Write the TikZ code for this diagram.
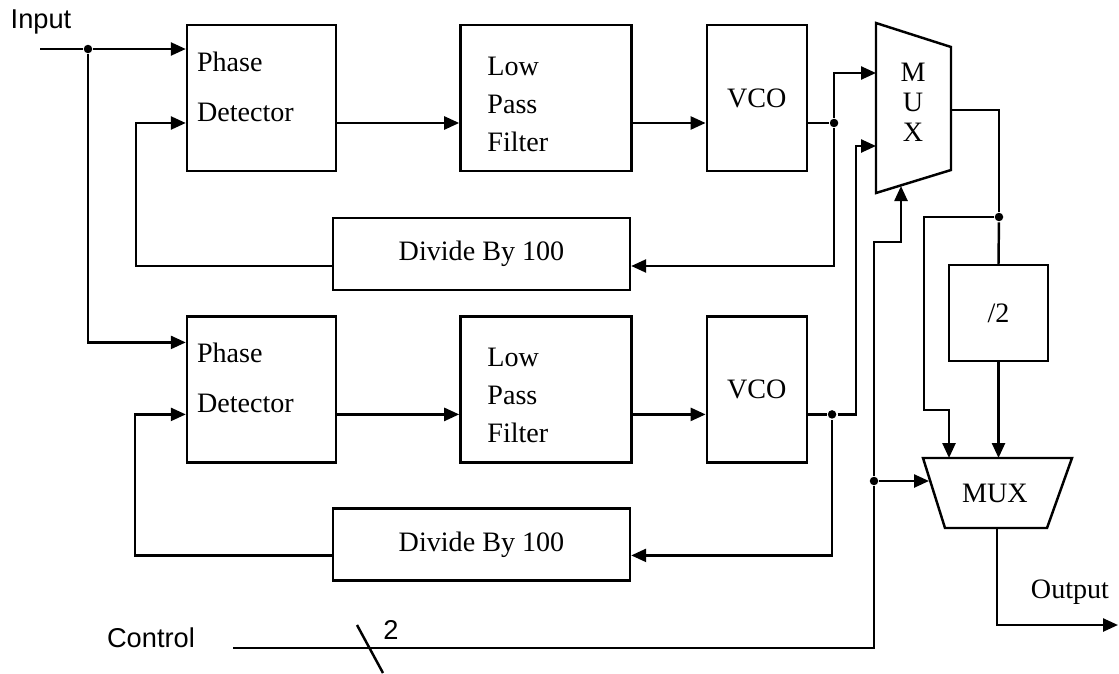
\documentclass[tikz,border=0pt]{standalone}
\usepackage{fontspec}
\setmainfont{Liberation Serif}
\newfontfamily\labelsans{Liberation Sans}
\usetikzlibrary{positioning,arrows.meta,calc}

\begin{document}
\begin{tikzpicture}[
    x=0.02cm, y=-0.02cm,
    >={Triangle[length=0.3cm,width=0.26cm]},
    line width=1.4pt,
    every node/.style={font=\fontsize{16}{19}\selectfont},
    block/.style={
      rectangle, draw, line width=1.4pt, inner sep=0pt,
      minimum width=#1, minimum height=2.92cm
    },
    block/.default=2.98cm,
    divider/.style={
      rectangle, draw, line width=1.4pt, inner sep=0pt,
      minimum width=5.94cm, minimum height=1.44cm
    },
    tag/.style={inner sep=0pt, anchor=north west, align=left},
    dot/.style={circle, fill, inner sep=0pt, minimum size=0.17cm},
    sidetext/.style={font=\labelsans\fontsize{15.5}{18}\selectfont},
  ]
  \useasboundingbox (0,0) rectangle (1119,673);

  % Upper loop
  \node[block]        (pdA)  at (261.5,98) {};
  \node[block=3.42cm] (lpfA) [right=2.44cm of pdA]  {};
  \node[block=2.0cm]  (vcoA) [right=1.46cm of lpfA] {VCO};
  \node[divider]      (divA) at (481.5,254) {Divide By 100};

  % Lower loop
  \node[block]        (pdB)  [below=2.86cm of pdA]  {};
  \node[block=3.42cm] (lpfB) [below=2.86cm of lpfA] {};
  \node[block=2.0cm]  (vcoB) [below=2.86cm of vcoA] {VCO};
  \node[divider]      (divB) [below=4.32cm of divA] {Divide By 100};

  % Box texts
  \node[tag, font=\fontsize{16}{28.5}\selectfont] (pdAt)
    at ([xshift=0.2cm, yshift=-0.53cm]pdA.north west) {Phase\\Detector};
  \node[tag, font=\fontsize{16}{28.5}\selectfont] (pdBt)
    at ([xshift=0.2cm, yshift=-0.53cm]pdB.north west) {Phase\\Detector};
  \node[tag, font=\fontsize{16}{21.6}\selectfont] (lpfAt)
    at ([xshift=0.54cm, yshift=-0.64cm]lpfA.north west) {Low\\Pass\\Filter};
  \node[tag, font=\fontsize{16}{21.6}\selectfont] (lpfBt)
    at ([xshift=0.54cm, yshift=-0.64cm]lpfB.north west) {Low\\Pass\\Filter};

  % Divide by two
  \node[rectangle, draw, line width=1.4pt, minimum width=1.98cm,
        minimum height=1.92cm] (half) at (998.5,313) {/2};

  % Multiplexers
  \draw (876,23) -- (951,47) -- (951,170) -- (876,193) -- cycle;
  \node[align=center, font=\fontsize{16}{17}\selectfont] (muxA) at (913,102) {M\\U\\X};
  \draw (923,458) -- (1072,458) -- (1047,528) -- (945,528) -- cycle;
  \node (muxB) at (995,493) {MUX};

  \coordinate (muxIn1) at (876,73);
  \coordinate (muxIn2) at (876,146);
  \coordinate (muxSel) at (901,186);
  \coordinate (muxOut) at (951,110);
  \coordinate (muxInL) at (949,458);
  \coordinate (muxInS) at (929,481);
  \coordinate (muxOutB) at (997,528);

  % Input
  \node[sidetext] (input) at (41,22) {Input};
  \coordinate (inStart) at (40,49);
  \node[dot] (inSplit) at (88,49) {};
  \draw (inStart) -- (inSplit);
  \draw[->] (inSplit) -- (inSplit -| pdA.west);
  \draw[->] (inSplit) |- ([yshift=0.94cm]pdB.west);

  % Forward paths
  \draw[->] ([yshift=-0.5cm]pdA.east) -- ([yshift=-0.5cm]lpfA.west);
  \draw[->] ([yshift=-0.5cm]lpfA.east) -- ([yshift=-0.5cm]vcoA.west);
  \draw[->] ([yshift=-0.5cm]pdB.east) -- ([yshift=-0.5cm]lpfB.west);
  \draw[->] ([yshift=-0.5cm]lpfB.east) -- ([yshift=-0.5cm]vcoB.west);

  % VCO outputs
  \node[dot] (splitA) at ([xshift=0.52cm, yshift=-0.5cm]vcoA.east) {};
  \node[dot] (splitB) at ([xshift=0.48cm, yshift=-0.5cm]vcoB.east) {};
  \draw ([yshift=-0.5cm]vcoA.east) -- (splitA);
  \draw[->] (splitA) |- (muxIn1);
  \draw[->] (splitA) |- ([yshift=-0.24cm]divA.east);
  \draw[->] ([yshift=-0.5cm]vcoB.east) -- (splitB) -- ++(24,0) |- (muxIn2);
  \draw[->] (splitB) |- ([yshift=-0.22cm]divB.east);

  % Feedback
  \draw[->] ([yshift=-0.24cm]divA.west) -- ++(-196,0) |- ([yshift=-0.5cm]pdA.west);
  \draw[->] ([yshift=-0.22cm]divB.west) -- ++(-197,0) |- ([yshift=-0.5cm]pdB.west);

  % Output stage
  \node[dot] (outSplit) at (999,217) {};
  \draw (muxOut) -| (outSplit);
  \draw (outSplit) -- (half.north);
  \draw[->] (outSplit) -- ++(-75,0) |- ++(25,193) -- (muxInL);
  \draw[->] (half.south) -- (half.south |- muxInL);
  \coordinate (outEnd) at (1118,625);
  \draw[->] (muxOutB) |- (outEnd);
  \node (output) at (1070,592) {Output};

  % Control
  \node[sidetext, anchor=base west] (ctrl) at (100,647) {Control};
  \coordinate (ctrlStart) at (233,648);
  \node[dot] (selSplit) at (874,481) {};
  \draw (ctrlStart) -| (selSplit);
  \draw[->] (selSplit) |- ++(27,-239) -- (muxSel);
  \draw[->] (selSplit) -- (muxInS);
  \draw (357,625) -- (383,673);
  \node[sidetext] (width) at (391,630) {2};

\end{tikzpicture}
\end{document}
